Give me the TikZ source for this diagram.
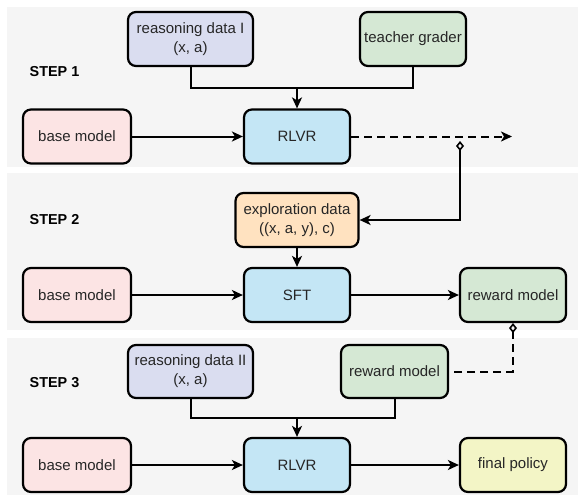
\documentclass[tikz,border=0pt]{standalone}
\usepackage{fontspec}
\setmainfont{Liberation Sans}
\usetikzlibrary{arrows.meta}

\definecolor{panelbg}{HTML}{F5F5F5}
\definecolor{datafill}{HTML}{DADDF0}
\definecolor{greenfill}{HTML}{D5E8D4}
\definecolor{pinkfill}{HTML}{FCE4E4}
\definecolor{bluefill}{HTML}{C4E6F5}
\definecolor{orangefill}{HTML}{FFE2C0}
\definecolor{yellowfill}{HTML}{F3F5C6}

\tikzset{
  odiam/.tip={Diamond[open,length=10pt,width=8pt,line width=1.6pt]},
  sharp/.tip={Stealth[length=11pt,width=10pt,inset=3pt]},
  box/.style={draw=black, line width=2.2pt, rounded corners=8pt, align=center,
    font=\fontsize{15}{19}\selectfont, inner sep=0pt, text=black!85},
  wbox/.style={box, minimum width=106pt, minimum height=54pt},
  dbox/.style={box, minimum width=125pt, minimum height=54pt},
  steplabel/.style={font=\fontsize{14.4}{17}\selectfont\bfseries, anchor=west, inner sep=0pt},
  link/.style={line width=2pt},
  flow/.style={link, -sharp},
  dash7/.style={dash pattern=on 8pt off 5pt}
}

\begin{document}
\begin{tikzpicture}[x=1pt,y=-1pt]
  \useasboundingbox (0,0) rectangle (578,495);
  \fill[white] (0,0) rectangle (578,495);

  % three stage panels
  \fill[panelbg] (7,7) rectangle (578,166.7);
  \fill[panelbg] (7,172.7) rectangle (578,330);
  \fill[panelbg] (7,337.7) rectangle (578,495);

  % stage 1
  \node[steplabel] (s1) at (29.5,72) {STEP 1};
  \node[dbox, fill=datafill] (rd1) at (190.5,39) {reasoning data I\\(x, a)};
  \node[wbox, fill=greenfill] (tg) at (413,39) {teacher grader};
  \node[wbox, fill=pinkfill, minimum width=108pt] (bm1) at (77,136.5) {base model};
  \node[wbox, fill=bluefill] (rl1) at (297,136.5) {RLVR};
  \coordinate (j1) at (297,88);
  \coordinate (o1) at (512,136.5);
  \coordinate (d1) at (460,141);

  % stage 2
  \node[steplabel] (s2) at (29.5,220) {STEP 2};
  \node[box, fill=orangefill, minimum width=123pt, minimum height=54pt] (exp) at (297,220) {exploration data\\((x, a, y), c)};
  \node[wbox, fill=pinkfill, minimum width=108pt] (bm2) at (77,295) {base model};
  \node[wbox, fill=bluefill] (sft) at (297,295) {SFT};
  \node[wbox, fill=greenfill] (rm2) at (513,295) {reward model};

  % stage 3
  \node[steplabel] (s3) at (29.5,383) {STEP 3};
  \node[dbox, fill=datafill, minimum height=53pt] (rd2) at (190.5,371.5) {reasoning data II\\(x, a)};
  \node[wbox, fill=greenfill, minimum width=107pt, minimum height=53pt] (rm3) at (394.5,371.5) {reward model};
  \node[wbox, fill=pinkfill, minimum width=108pt] (bm3) at (77,465) {base model};
  \node[wbox, fill=bluefill] (rl3) at (297,465) {RLVR};
  \node[wbox, fill=yellowfill] (fp) at (513,465) {final policy};
  \coordinate (j3) at (297,418);

  % connectors, stage 1
  \draw[link] (rd1.south) |- (j1) -| (tg.south);
  \draw[flow] (j1) -- (rl1.north);
  \draw[flow] (bm1.east) -- (rl1.west);
  \draw[flow, dash7] (rl1.east) -- (o1);
  \draw[link, odiam-sharp] (d1) |- (exp.east);

  % connectors, stage 2
  \draw[flow] (exp.south) -- (sft.north);
  \draw[flow] (bm2.east) -- (sft.west);
  \draw[flow] (sft.east) -- (rm2.west);
  \draw[link, dash7, odiam-] (rm2.south) |- (rm3.east);

  % connectors, stage 3
  \draw[link] (rd2.south) |- (j3) -| (rm3.south);
  \draw[flow] (j3) -- (rl3.north);
  \draw[flow] (bm3.east) -- (rl3.west);
  \draw[flow] (rl3.east) -- (fp.west);
\end{tikzpicture}
\end{document}
